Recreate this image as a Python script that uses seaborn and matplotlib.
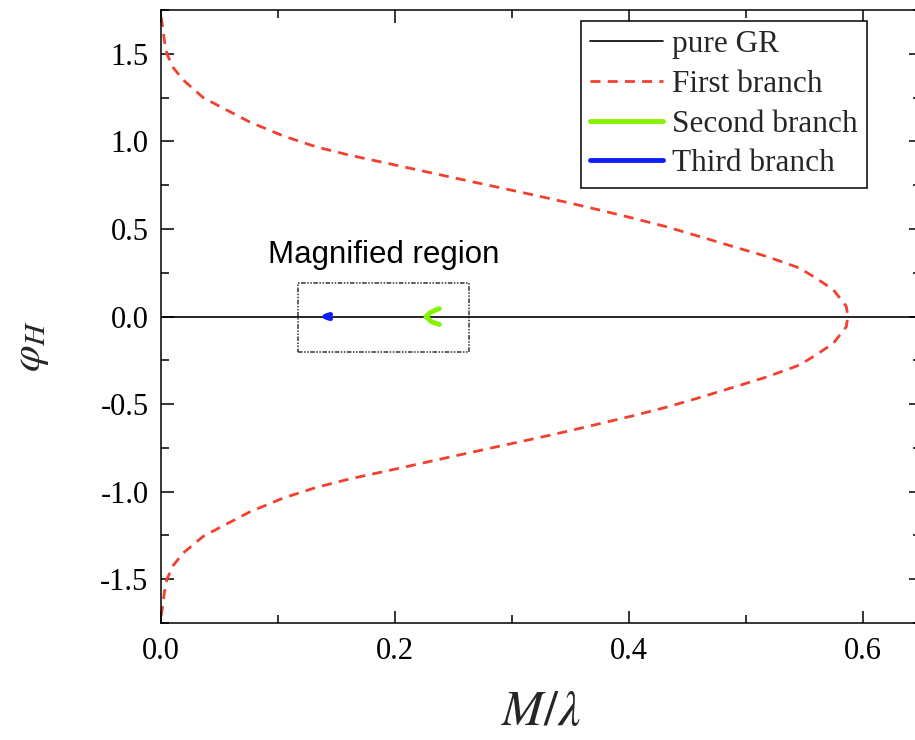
import matplotlib
matplotlib.use("Agg")
import matplotlib.pyplot as plt
from matplotlib.patches import Rectangle
from matplotlib.ticker import MultipleLocator
import seaborn as sns

# pure GR: the trivial solution phi_H = 0
gr_mass = [0.0, 0.65]
gr_phi = [0.0, 0.0]

# First branch (scalarized solutions), from the top end down to the bottom end
first_mass = [0.000, 0.001, 0.003, 0.005, 0.0105, 0.019, 0.036, 0.053, 0.076, 0.105,
              0.133, 0.162, 0.201, 0.247, 0.293, 0.318, 0.347, 0.375, 0.404, 0.432,
              0.461, 0.489, 0.518, 0.546, 0.560, 0.575, 0.586, 0.5875,
              0.586, 0.575, 0.560, 0.546, 0.518, 0.489, 0.461, 0.432, 0.404, 0.375,
              0.347, 0.318, 0.293, 0.247, 0.201, 0.162, 0.133, 0.105, 0.076, 0.053,
              0.036, 0.019, 0.0105, 0.005, 0.003, 0.001, 0.000]
first_phi = [1.71, 1.67, 1.57, 1.50, 1.42, 1.35, 1.25, 1.19, 1.11, 1.03,
             0.968, 0.920, 0.864, 0.797, 0.731, 0.695, 0.652, 0.608, 0.561, 0.513,
             0.456, 0.400, 0.343, 0.277, 0.220, 0.153, 0.059, 0.0,
             -0.059, -0.153, -0.220, -0.277, -0.345, -0.405, -0.462, -0.518, -0.566, -0.612,
             -0.656, -0.699, -0.735, -0.802, -0.870, -0.926, -0.975, -1.035, -1.115, -1.195,
             -1.255, -1.350, -1.420, -1.500, -1.570, -1.670, -1.71]

# Second branch
second_mass = [0.238, 0.234, 0.230, 0.2265, 0.2313, 0.238]
second_phi = [0.045, 0.035, 0.021, 0.0, -0.030, -0.045]

# Third branch
third_mass = [0.145, 0.142, 0.140, 0.142, 0.145]
third_phi = [0.012, 0.006, 0.0, -0.006, -0.012]

# Extent of the magnified region box
box_mass = [0.117, 0.263]
box_phi = [-0.20, 0.19]

x_ticks = [0.0, 0.2, 0.4, 0.6]
y_ticks = [-1.5, -1.0, -0.5, 0.0, 0.5, 1.0, 1.5]

sns.set_theme(style="ticks")
plt.rcParams["font.family"] = ["Liberation Serif", "DejaVu Serif"]
plt.rcParams["mathtext.fontset"] = "stix"
plt.rcParams["axes.linewidth"] = 1.1

fig = plt.figure(figsize=(9.15, 7.4), dpi=100)
ax = fig.add_axes([0.176, 0.158, 1.0066 - 0.176, 0.9865 - 0.158])

sns.lineplot(x=gr_mass, y=gr_phi, sort=False, estimator=None, ax=ax,
             color="black", lw=1.2, label="pure GR")
sns.lineplot(x=first_mass, y=first_phi, sort=False, estimator=None, ax=ax,
             color="#f2402f", lw=2.0, linestyle=(0, (3.6, 2.6)),
             dash_joinstyle="round", label="First branch")
sns.lineplot(x=second_mass, y=second_phi, sort=False, estimator=None, ax=ax,
             color="#84f200", lw=3.5, solid_capstyle="round", label="Second branch")
sns.lineplot(x=third_mass, y=third_phi, sort=False, estimator=None, ax=ax,
             color="#0a1eff", lw=3.5, solid_capstyle="round", label="Third branch")

ax.add_patch(Rectangle((box_mass[0], box_phi[0]), box_mass[1] - box_mass[0],
                       box_phi[1] - box_phi[0], fill=False, ec="#333333", lw=1.1,
                       ls=(0, (3, 1, 1, 1, 1, 1))))
ax.text(sum(box_mass) / 2, 0.35, "Magnified region", ha="center", va="center",
        fontsize=22.5, family=["Liberation Sans", "DejaVu Sans"], color="black")

ax.set_xlim(0, 0.65)
ax.set_ylim(-1.75, 1.75)
ax.set_xticks(x_ticks)
ax.set_yticks(y_ticks)
ax.set_xticklabels([f"{v:.1f}" for v in x_ticks])
ax.set_yticklabels([f"{v:.1f}" for v in y_ticks])
ax.xaxis.set_minor_locator(MultipleLocator(0.1))
ax.yaxis.set_minor_locator(MultipleLocator(0.25))
ax.tick_params(which="both", direction="in", top=True, right=True, colors="black",
               labelsize=22, width=1.1)
ax.tick_params(which="major", length=9)
ax.tick_params(which="minor", length=6)
ax.tick_params(axis="x", pad=10)
ax.tick_params(axis="y", pad=9)
for s in ax.spines.values():
    s.set_color("black")

ax.set_xlabel(r"$M/\lambda$", fontsize=36)
ax.xaxis.label.set_va("center")
ax.xaxis.set_label_coords(0.5, -0.147)
ax.set_ylabel(r"$\varphi_H$", fontsize=31)
ax.yaxis.label.set_va("center")
ax.yaxis.set_label_coords(-0.17, 0.452)

leg = ax.legend(loc="upper right", bbox_to_anchor=(0.929, 0.982), fontsize=22.5,
                frameon=True, fancybox=False, edgecolor="black", framealpha=1,
                handlelength=2.35, handletextpad=0.28, labelspacing=0.34,
                borderpad=0.3, borderaxespad=0)
leg.get_frame().set_linewidth(1.1)

fig.savefig("out.png", dpi=100, facecolor="white")
